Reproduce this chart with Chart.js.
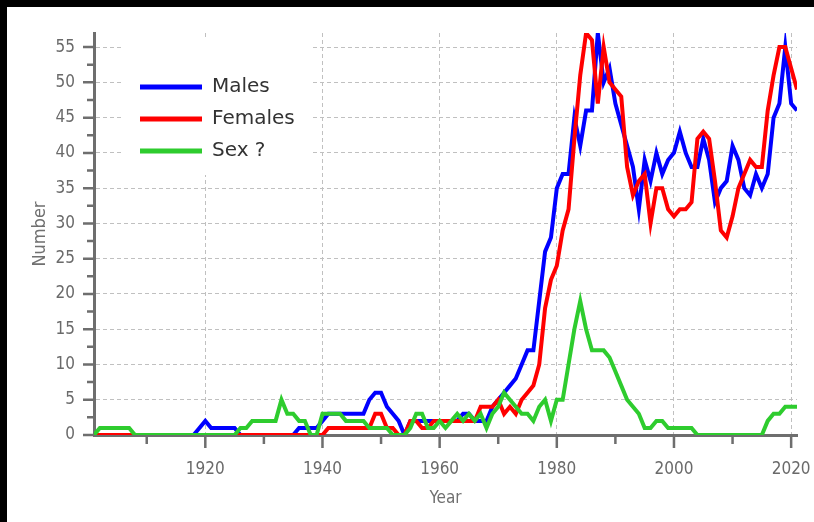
<!DOCTYPE html>
<html>
<head>
<meta charset="utf-8">
<script src="https://cdn.jsdelivr.net/npm/chart.js@4.4.0/dist/chart.umd.min.js"></script>
<style>
  html, body { margin: 0; padding: 0; background: #000; }
  #wrap { position: absolute; left: 7px; top: 7px; width: 807px; height: 515px; background: #fff; }
</style>
</head>
<body>
<div id="wrap"><canvas id="myChart" width="807" height="515"></canvas></div>
<script>
// yearly counts, 1901 - 2021
const firstYear = 1901;

const males = [
    0, 0, 0, 0, 0, 0, 0, 0, 0, 0,
    0, 0, 0, 0, 0, 0, 0, 0, 1, 2,
    1, 1, 1, 1, 1, 0, 0, 0, 0, 0,
    0, 0, 0, 0, 0, 1, 1, 1, 1, 2,
    3, 3, 3, 3, 3, 3, 3, 5, 6, 6,
    4, 3, 2, 0, 2, 2, 2, 2, 2, 2,
    2, 2, 2, 3, 3, 2, 2, 2, 4, 5,
    6, 7, 8, 10, 12, 12, 19, 26, 28, 35,
    37, 37, 45, 41, 46, 46, 57, 50, 52, 47,
    44, 41, 38, 32, 39, 36, 40, 37, 39, 40,
    43, 40, 38, 38, 42, 39, 33, 35, 36, 41,
    39, 35, 34, 37, 35, 37, 45, 47, 55, 47,
    46
];

const females = [
    0, 0, 0, 0, 0, 0, 0, 0, 0, 0,
    0, 0, 0, 0, 0, 0, 0, 0, 0, 0,
    0, 0, 0, 0, 0, 0, 0, 0, 0, 0,
    0, 0, 0, 0, 0, 0, 0, 0, 0, 0,
    1, 1, 1, 1, 1, 1, 1, 1, 3, 3,
    1, 1, 0, 0, 2, 2, 1, 1, 2, 2,
    2, 2, 2, 2, 2, 2, 4, 4, 4, 5,
    3, 4, 3, 5, 6, 7, 10, 18, 22, 24,
    29, 32, 42, 51, 57, 56, 47, 55, 50, 49,
    48, 38, 34, 36, 37, 30, 35, 35, 32, 31,
    32, 32, 33, 42, 43, 42, 36, 29, 28, 31,
    35, 37, 39, 38, 38, 46, 51, 55, 55, 52,
    49
];

const unknownSex = [
    0, 1, 1, 1, 1, 1, 1, 0, 0, 0,
    0, 0, 0, 0, 0, 0, 0, 0, 0, 0,
    0, 0, 0, 0, 0, 1, 1, 2, 2, 2,
    2, 2, 5, 3, 3, 2, 2, 0, 0, 3,
    3, 3, 3, 2, 2, 2, 2, 1, 1, 1,
    1, 0, 0, 0, 1, 3, 3, 1, 1, 2,
    1, 2, 3, 2, 3, 2, 3, 1, 3, 4,
    6, 5, 4, 3, 3, 2, 4, 5, 2, 5,
    5, 10, 15, 19, 15, 12, 12, 12, 11, 9,
    7, 5, 4, 3, 1, 1, 2, 2, 1, 1,
    1, 1, 1, 0, 0, 0, 0, 0, 0, 0,
    0, 0, 0, 0, 0, 2, 3, 3, 4, 4,
    4
];

const years = males.map((v, i) => firstYear + i);

const xTickLabels = [1920, 1940, 1960, 1980, 2000, 2020];
const xMinorTicks = [1910, 1930, 1950, 1970, 1990, 2010];
const yTickLabels = [0, 5, 10, 15, 20, 25, 30, 35, 40, 45, 50, 55];
const yMinorTicks = [2.5, 7.5, 12.5, 17.5, 22.5, 27.5, 32.5, 37.5, 42.5, 47.5, 52.5];

const axisColor = '#6e6e6e';
const gridColor = '#c0c0c0';
const tickFont = { size: 17, family: "'DejaVu Sans Condensed', 'Liberation Sans Narrow', 'DejaVu Sans', sans-serif" };

// tick marks of two lengths, drawn outside the plot area
const axisTicks = {
    id: 'axisTicks',
    afterDraw(chart) {
        const { ctx, chartArea, scales } = chart;
        ctx.save();
        ctx.strokeStyle = axisColor;
        ctx.lineWidth = 2.5;
        ctx.beginPath();
        yTickLabels.forEach(v => {
            const py = scales.y.getPixelForValue(v);
            ctx.moveTo(chartArea.left, py);
            ctx.lineTo(chartArea.left - 11, py);
        });
        yMinorTicks.forEach(v => {
            const py = scales.y.getPixelForValue(v);
            ctx.moveTo(chartArea.left, py);
            ctx.lineTo(chartArea.left - 7, py);
        });
        xTickLabels.forEach(v => {
            const px = scales.x.getPixelForValue(v);
            ctx.moveTo(px, chartArea.bottom);
            ctx.lineTo(px, chartArea.bottom + 13);
        });
        xMinorTicks.forEach(v => {
            const px = scales.x.getPixelForValue(v);
            ctx.moveTo(px, chartArea.bottom);
            ctx.lineTo(px, chartArea.bottom + 9);
        });
        ctx.stroke();
        ctx.restore();
    }
};

// legend box inside the plot, top left
const boxLegend = {
    id: 'boxLegend',
    afterDraw(chart) {
        const ctx = chart.ctx;
        ctx.save();
        ctx.fillStyle = '#ffffff';
        ctx.fillRect(116, 31, 190, 137);
        ctx.font = "20px 'DejaVu Sans', sans-serif";
        ctx.textBaseline = 'middle';
        chart.data.datasets.forEach((ds, i) => {
            const ly = 80 + i * 32;
            ctx.strokeStyle = ds.borderColor;
            ctx.lineWidth = 5;
            ctx.beginPath();
            ctx.moveTo(133, ly);
            ctx.lineTo(195, ly);
            ctx.stroke();
            ctx.fillStyle = '#333333';
            ctx.fillText(ds.label, 205, ly);
        });
        ctx.restore();
    }
};

const myCanvas = document.getElementById('myChart').getContext('2d');

const myChart = new Chart(myCanvas, {
    type: 'line',
    data: {
        labels: years,
        datasets: [{
            label: 'Males',
            data: males,
            borderColor: '#0000ff',
            order: 2,
        }, {
            label: 'Females',
            data: females,
            borderColor: '#ff0000',
            order: 1,
        }, {
            label: 'Sex ?',
            data: unknownSex,
            borderColor: '#2ecc2e',
            order: 0,
        }],
    },
    options: {
        responsive: false,
        animation: false,
        elements: {
            line: { borderWidth: 4, tension: 0 },
            point: { radius: 0 }
        },
        layout: {
            padding: { top: 26, right: 17, left: 0, bottom: 0 }
        },
        scales: {
            x: {
                type: 'linear',
                min: 1901,
                max: 2021,
                afterBuildTicks: (scale) => {
                    scale.ticks = xTickLabels.map(v => ({ value: v }));
                },
                afterFit: (scale) => {
                    scale.height = 87;
                    scale.paddingLeft = 0;
                    scale.paddingRight = 0;
                },
                grid: {
                    color: gridColor,
                    lineWidth: 1,
                    drawTicks: false
                },
                border: { display: true, color: axisColor, width: 3, dash: [4, 3] },
                ticks: {
                    color: '#6a6a6a',
                    font: tickFont,
                    padding: 24,
                    maxRotation: 0,
                    autoSkip: false,
                    callback: (v) => String(v)
                },
                title: {
                    display: true,
                    text: 'Year',
                    color: '#707070',
                    font: { size: 17, family: tickFont.family },
                    padding: { top: 0, bottom: 13 }
                }
            },
            y: {
                min: 0,
                max: 57,
                afterBuildTicks: (scale) => {
                    scale.ticks = yTickLabels.map(v => ({ value: v }));
                },
                afterFit: (scale) => {
                    scale.width = 87;
                    scale.paddingTop = 0;
                    scale.paddingBottom = 0;
                },
                grid: {
                    color: (c) => c.tick && c.tick.value === 0 ? 'rgba(0,0,0,0)' : gridColor,
                    lineWidth: 1,
                    drawTicks: false
                },
                border: { display: true, color: axisColor, width: 3, dash: [4, 3] },
                ticks: {
                    color: '#6a6a6a',
                    font: tickFont,
                    padding: 19,
                    autoSkip: false
                },
                title: {
                    display: true,
                    text: 'Number',
                    color: '#707070',
                    font: { size: 18, family: tickFont.family },
                    padding: { top: 23, bottom: 0 }
                }
            }
        },
        plugins: {
            legend: { display: false },
            tooltip: { enabled: false }
        }
    },
    plugins: [axisTicks, boxLegend]
});
</script>
</body>
</html>
